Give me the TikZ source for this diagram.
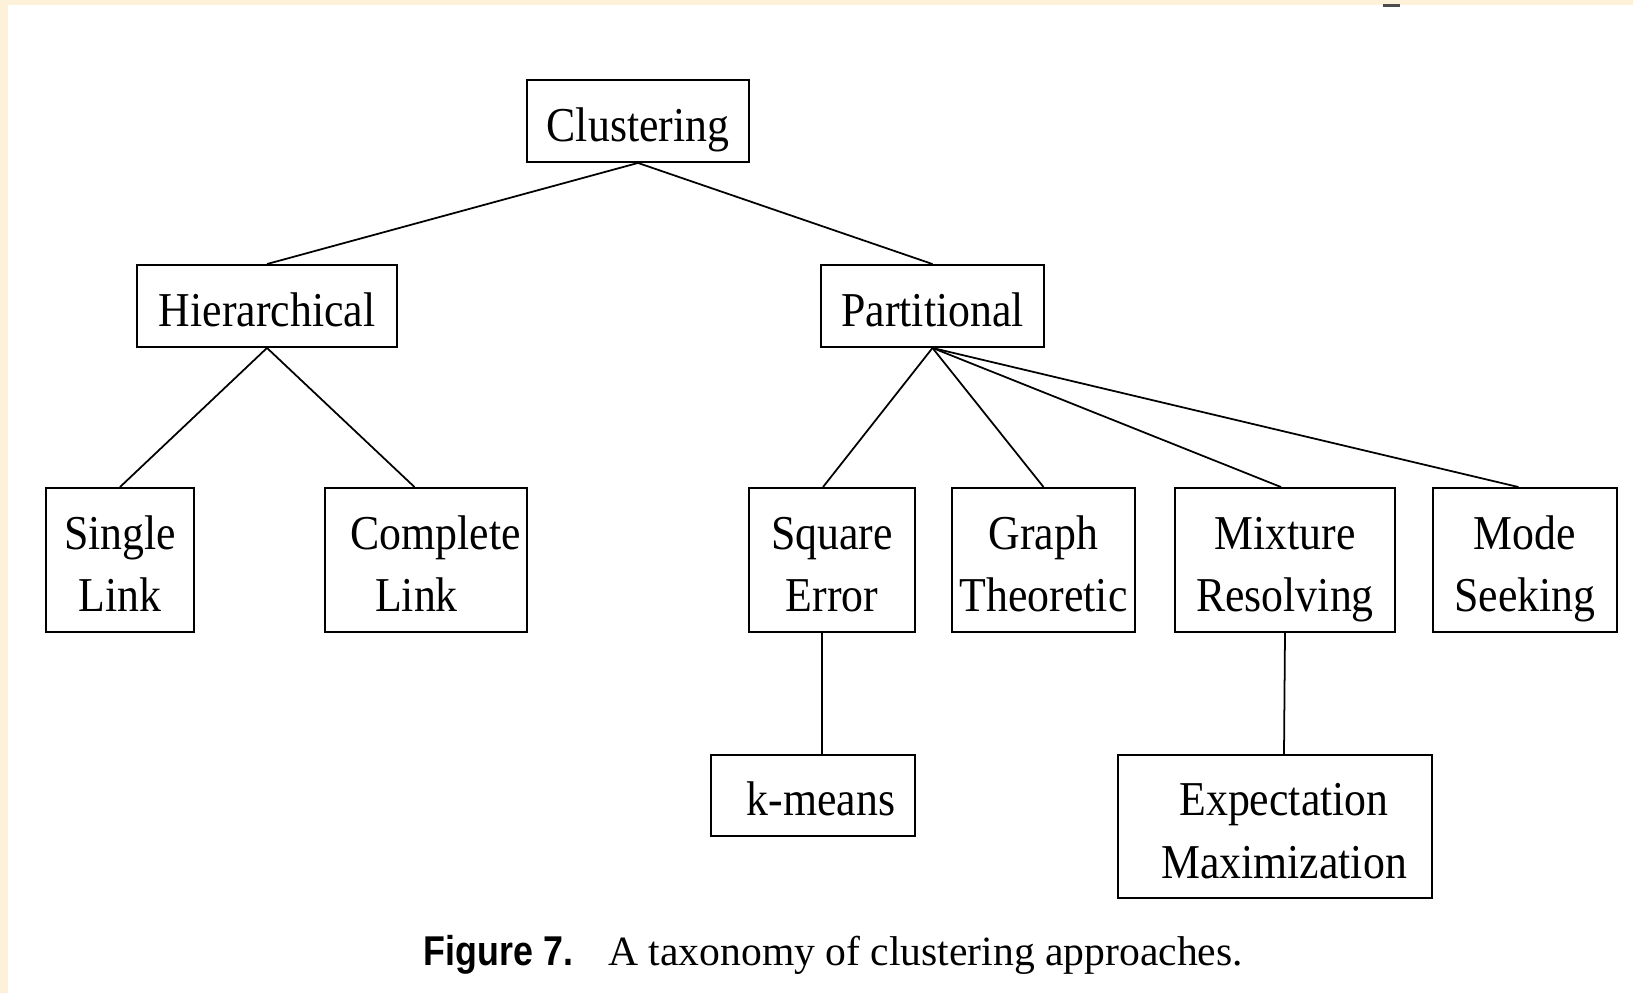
\documentclass[tikz,border=0pt]{standalone}
\usepackage{fontspec}
\setmainfont{Liberation Serif}[FakeStretch=0.9]
\newfontfamily\capserif{Liberation Serif}
\newfontfamily\capsans{Liberation Sans}[FakeStretch=0.86]
\definecolor{cream}{RGB}{253,241,217}
\newcommand{\topstrut}{\rule{0pt}{34pt}}
\newcommand{\botstrut}{\rule[-10.7pt]{0pt}{0pt}}
\tikzset{
  box/.style={draw,line width=1.1pt,inner sep=0pt,align=center,font=\fontsize{27.7}{35.6}\selectfont,
    execute at begin node=\topstrut,execute at end node=\botstrut},
  pair/.style={box,execute at begin node={},execute at end node={}},
  link/.style={line width=1pt},
}
\begin{document}
\begin{tikzpicture}[x=0.02cm,y=-0.02cm]
	%		page background
	\fill[cream](0,0)rectangle(1633,993);
	\fill[white](8,5)rectangle(1633,993);
	\useasboundingbox(0,0)rectangle(1633,993);
	\fill[black!70](1383,4)rectangle(1400,7);
	\node[box,minimum width=4.44cm,minimum height=1.64cm](clus)at(638,121){Clustering};
	\node[box,minimum width=5.2cm,minimum height=1.64cm](hier)at(267,306){Hierarchical};
	\node[box,minimum width=4.46cm,minimum height=1.64cm](part)at(932.5,306){Partitional};
	\node[pair,minimum width=2.96cm,minimum height=2.88cm](single)at(120,560){\topstrut Single\\Link\botstrut};
	\node[pair,minimum width=4.04cm,minimum height=2.88cm](complete)at(426,560){\topstrut\hspace*{0.38cm}Complete\\Link\hspace*{0.38cm}\botstrut};
	\node[pair,minimum width=3.32cm,minimum height=2.88cm](square)at(832,560){\topstrut Square\\Error\botstrut};
	\node[pair,minimum width=3.66cm,minimum height=2.88cm](graph)at(1043.5,560){\topstrut Graph\\Theoretic\botstrut};
	\node[pair,minimum width=4.4cm,minimum height=2.88cm](mixture)at(1285,560){\topstrut Mixture\\Resolving\botstrut};
	\node[pair,minimum width=3.68cm,minimum height=2.88cm](mode)at(1525,560){\topstrut Mode\\Seeking\botstrut};
	\node[box,minimum width=4.08cm,minimum height=1.62cm](kmeans)at(813,795.5){\hspace*{0.32cm}k-means};
	\node[pair,minimum width=6.28cm,minimum height=2.86cm](em)at(1275,826.5){\topstrut\hspace*{0.36cm}Expectation\\\hspace*{0.36cm}Maximization\botstrut};
	\draw[link](clus.south)--(hier.north);
	\draw[link](clus.south)--(part.north);
	\draw[link](hier.south)--(single.north);
	\draw[link](hier.south)--([xshift=-0.23cm]complete.north);
	\draw[link](part.south)--([xshift=-0.18cm]square.north);
	\draw[link](part.south)--(graph.north);
	\draw[link](part.south)--([xshift=-0.08cm]mixture.north);
	\draw[link](part.south)--([xshift=-0.13cm]mode.north);
	\draw[link]([xshift=-0.2cm]square.south)--([xshift=0.18cm]kmeans.north);
	\draw[link](mixture.south)--([xshift=0.18cm]em.north);
	\node[font=\fontsize{23.7}{28}\selectfont,anchor=base](caption)at(833.5,965.5){{\capsans\bfseries Figure 7.}\hspace{0.7cm}{\capserif A taxonomy of clustering approaches.}};
\end{tikzpicture}
\end{document}
